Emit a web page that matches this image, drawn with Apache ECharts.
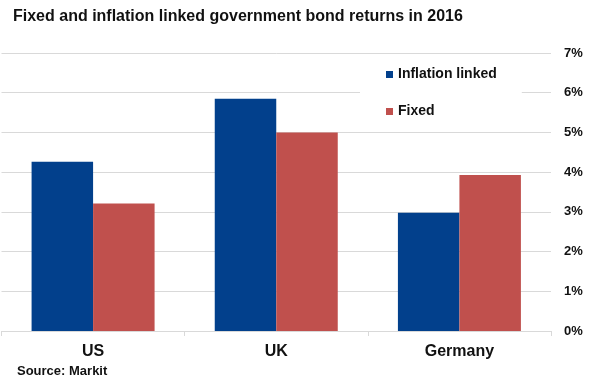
<!DOCTYPE html>
<html>
<head>
<meta charset="utf-8">
<script src="https://cdn.jsdelivr.net/npm/echarts@6/dist/echarts.min.js"></script>
<style>
html,body{margin:0;padding:0;background:#fff;}
#chart{width:590px;height:385px;}
</style>
</head>
<body>
<div id="chart"></div>
<script>
const titleText = "Fixed and inflation linked government bond returns in 2016";
const sourceText = "Source: Markit";
const categories = ["US", "UK", "Germany"];
const seriesNames = ["Inflation linked", "Fixed"];
const inflationLinked = [4.26, 5.85, 2.98];
const fixed = [3.21, 5.0, 3.93];
const yTicks = [0, 1, 2, 3, 4, 5, 6, 7];

const FONT = "'Liberation Sans', Arial, sans-serif";
const chart = echarts.init(document.getElementById('chart'), null, {renderer: 'canvas'});
chart.setOption({
  animation: false,
  backgroundColor: '#ffffff',
  title: {
    text: titleText,
    left: 13, top: 9, padding: 0,
    textStyle: {fontFamily: FONT, fontSize: 16, fontWeight: 'bold', color: '#111111'}
  },
  graphic: [{
    type: 'text', left: 17, top: 365,
    style: {text: sourceText, font: "bold 13px " + FONT, fill: '#111111'}
  }],
  legend: {
    orient: 'vertical',
    left: 360, top: 55,
    padding: [11.5, 25, 11, 26],
    backgroundColor: '#ffffff',
    itemWidth: 7, itemHeight: 7, itemGap: 21,
    icon: 'rect',
    textStyle: {fontFamily: FONT, fontSize: 14, fontWeight: 'bold', color: '#111111', lineHeight: 16},
    data: seriesNames
  },
  grid: {left: 1.5, right: 39, top: 53, bottom: 54, containLabel: false},
  xAxis: {
    type: 'category',
    data: categories,
    axisLine: {show: true, lineStyle: {color: '#d9d9d9', width: 1}},
    axisTick: {show: true, length: 5, alignWithLabel: false, lineStyle: {color: '#d9d9d9'}},
    axisLabel: {margin: 13, fontFamily: FONT, fontSize: 16, fontWeight: 'bold', color: '#111111'}
  },
  yAxis: {
    type: 'value',
    position: 'right',
    min: yTicks[0], max: yTicks[yTicks.length - 1], interval: 1,
    axisLine: {show: false},
    axisTick: {show: false},
    splitLine: {show: true, lineStyle: {color: '#d9d9d9', width: 1}},
    axisLabel: {margin: 13, fontFamily: FONT, fontSize: 13, fontWeight: 'bold', color: '#111111',
      formatter: v => v + '%'}
  },
  series: [
    {name: seriesNames[0], type: 'bar', data: inflationLinked, barWidth: 61.5, barGap: '0%',
     itemStyle: {color: '#02408c'}},
    {name: seriesNames[1], type: 'bar', data: fixed, barWidth: 61.5, barGap: '0%',
     itemStyle: {color: '#c0504d'}}
  ]
});
</script>
</body>
</html>
